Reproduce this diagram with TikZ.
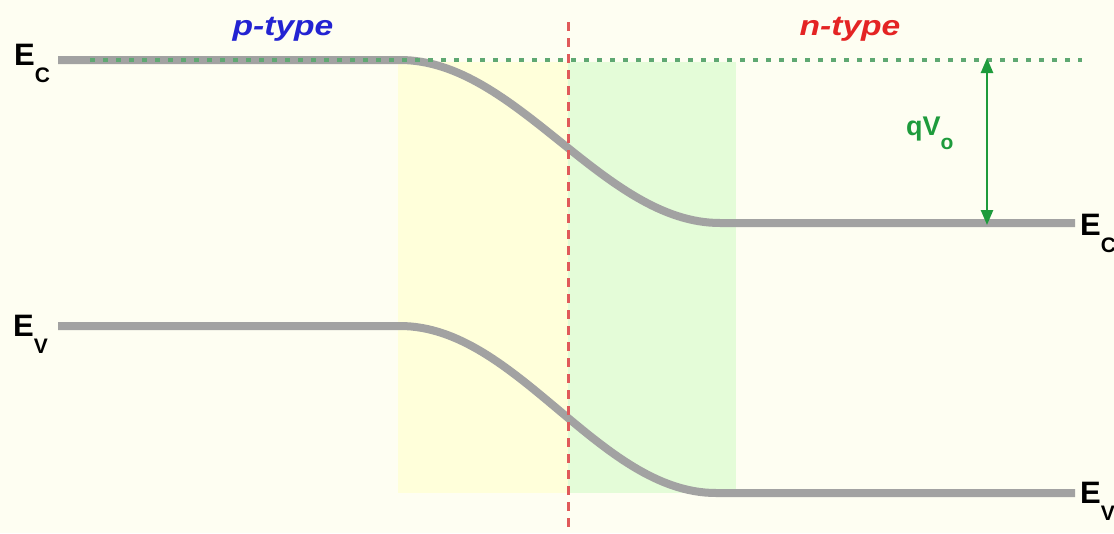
\documentclass[tikz,border=0pt]{standalone}
\usepackage{fontspec}
\setmainfont{Liberation Sans}
\usetikzlibrary{arrows.meta}
\definecolor{bgc}{HTML}{FEFEF2}
\definecolor{ylw}{HTML}{FFFFDA}
\definecolor{grn}{HTML}{E4FCD8}
\definecolor{band}{HTML}{A2A2A2}
\definecolor{dotg}{HTML}{5FA872}
\definecolor{redd}{HTML}{E05A5A}
\definecolor{arrg}{HTML}{1E9B3C}
\definecolor{ptc}{HTML}{2323D2}
\definecolor{ntc}{HTML}{E42424}
\tikzset{
  x=1pt, y=-1pt,
  bandline/.style={draw=band, line width=8pt},
  lvl/.style={inner sep=0pt, anchor=base west, font=\fontsize{31}{31}\selectfont\bfseries},
  typelbl/.style={inner sep=0pt, anchor=base, font=\fontsize{28}{28}\selectfont\bfseries\itshape, xscale=1.2},
}
\newcommand{\lvsub}[1]{\raisebox{-0.55em}{\fontsize{21}{21}\selectfont #1}}
\begin{document}
\begin{tikzpicture}
\useasboundingbox (0,0) rectangle (1114,533);
\clip (0,0) rectangle (1114,533);
\fill[bgc] (0,0) rectangle (1114,533);
\fill[ylw] (398,62) rectangle (568,493);
\fill[grn] (568,62) rectangle (736,493);
% bands
\coordinate (ecL) at (58,60);
\coordinate (ecA) at (400,60);
\coordinate (ecB) at (720,223);
\coordinate (ecR) at (1075,223);
\coordinate (evL) at (58,326);
\coordinate (evA) at (400,326);
\coordinate (evB) at (716,493);
\coordinate (evR) at (1075,493);
\draw[bandline] (ecL) -- (ecA) .. controls (517,60) and (603,223) .. (ecB) -- (ecR);
\draw[bandline] (evL) -- (evA) .. controls (517,326) and (599,493) .. (evB) -- (evR);
% dotted level
\coordinate (dS) at (90,60);
\coordinate (dE) at (1082,60);
\draw[dotg, line width=3.5pt, dash pattern=on 5pt off 8pt] (dS) -- (dE);
% junction line
\coordinate (jT) at (568,22);
\coordinate (jB) at (568,533);
\draw[redd, line width=3pt, dash pattern=on 9pt off 7pt] (jT) -- (jB);
% barrier arrow
\coordinate (aT) at (987,58);
\coordinate (aB) at (987,225);
\draw[arrg, line width=2.5pt, {Triangle[length=15pt,width=12pt]}-{Triangle[length=15pt,width=12pt]}] (aT) -- (aB);
\node[inner sep=0pt, anchor=base west, text=arrg, font=\fontsize{27}{27}\selectfont\bfseries] (qv) at (906,135) {qV\lvsub{o}};
% labels
\node[lvl] (ecl) at (14,65) {E\lvsub{C}};
\node[lvl] (evl) at (13,336) {E\lvsub{V}};
\node[lvl] (ecr) at (1080,235) {E\lvsub{C}};
\node[lvl] (evr) at (1080,503) {E\lvsub{V}};
\node[typelbl, text=ptc] (pt) at (283,35) {p-type};
\node[typelbl, text=ntc] (nt) at (850,35) {n-type};
\end{tikzpicture}
\end{document}
